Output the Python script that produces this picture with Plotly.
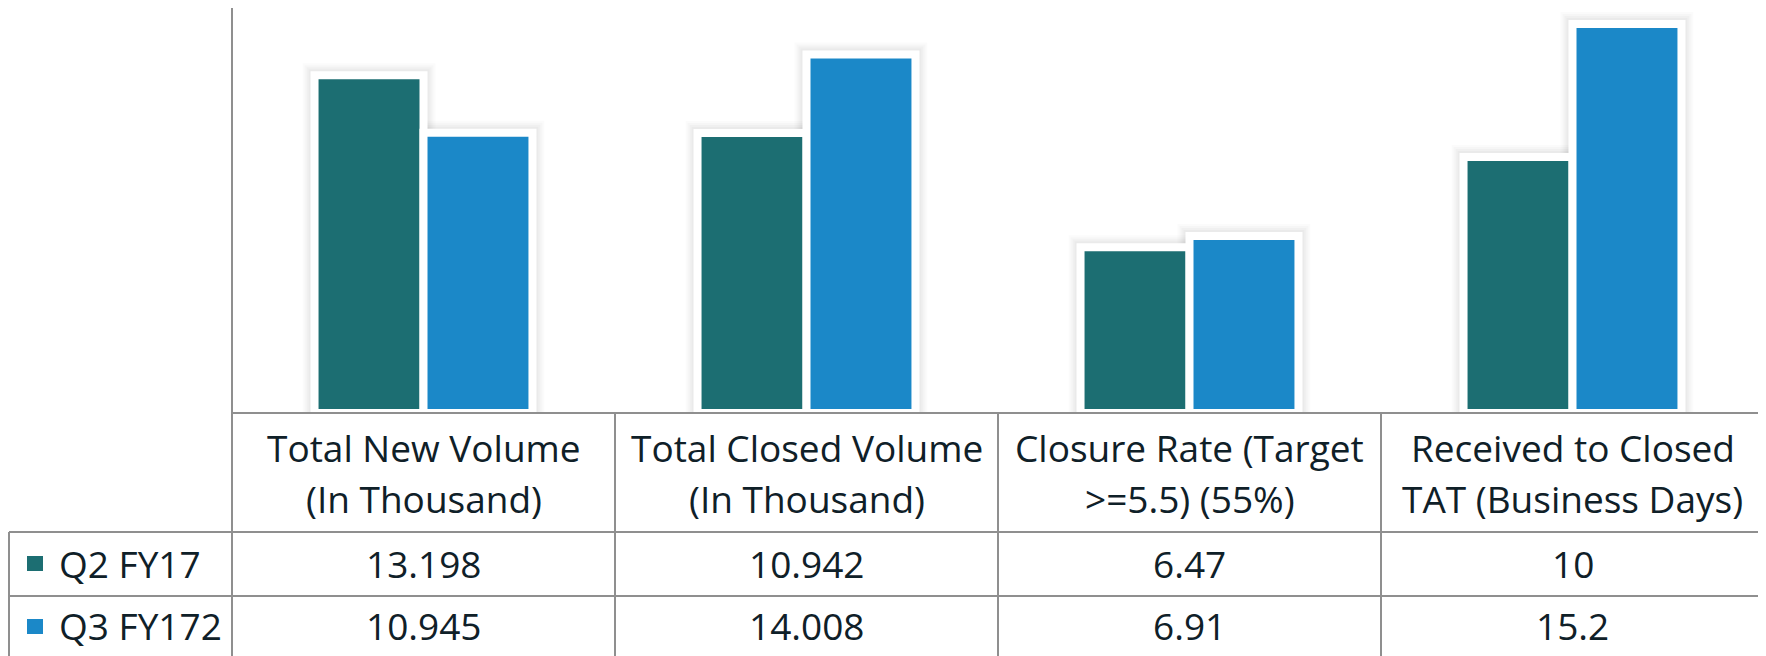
import plotly.graph_objects as go

# ---------------- data ----------------
categories = [
    "Total New Volume<br>(In Thousand)",
    "Total Closed Volume<br>(In Thousand)",
    "Closure Rate (Target<br>>=5.5) (55%)",
    "Received to Closed<br>TAT (Business Days)",
]
series_names = ["Q2 FY17", "Q3 FY172"]
q2_values = [13.198, 10.942, 6.47, 10]
q3_values = [10.945, 14.008, 6.91, 15.2]
series_values = [q2_values, q3_values]
series_colors = ["#1c6e72", "#1b88c8"]

# ---------------- geometry (page pixels; page body has an 8px margin) ----------------
OFF = 8
W, H = 1766 - OFF, 656 - OFF
PL, PR = 232 - OFF, 1764 - OFF   # plot area left/right in figure px
PT, PB = 0, 413 - OFF            # plot area top/bottom in figure px
PX_PER_UNIT = 25.6
Y_TOP = (PB - PT) / PX_PER_UNIT


def xp(page_x):
    return (page_x - OFF - PL) / (PR - PL)


def yp(page_y):
    return (PB - (page_y - OFF)) / (PB - PT)


GRID = "#8f8f8f"
TEXT = "#0f2028"
FONT = "Open Sans"
FS = 37

fig = go.Figure()

# soft shadows behind the bars
for name, vals in zip(series_names, series_values):
    for w, a in [(24, 0.014), (20, 0.018), (16, 0.022), (12, 0.025)]:
        fig.add_trace(go.Bar(
            x=categories, y=vals, offsetgroup=name, showlegend=False,
            marker=dict(color="rgba(0,0,0,0)", line=dict(color=f"rgba(0,0,0,{a})", width=w)),
            hoverinfo="skip",
        ))

for name, vals, col in zip(series_names, series_values, series_colors):
    fig.add_trace(go.Bar(
        x=categories, y=vals, name=name, offsetgroup=name, showlegend=False,
        marker=dict(color=col, line=dict(color="white", width=8)),
    ))

shapes = []


def line(x0, y0, x1, y1, xref="paper"):
    shapes.append(dict(type="line", xref=xref, yref="paper", x0=x0, x1=x1, y0=y0, y1=y1,
                       line=dict(color=GRID, width=2), layer="above"))


BOTTOM = yp(660)
# axis / table lines
line(0, 1, 0, BOTTOM)
line(0, 0, 1, 0)
line(xp(9), yp(532), 1, yp(532))
line(xp(9), yp(596), 1, yp(596))
line(xp(9), yp(532), xp(9), BOTTOM)
line(1, 0, 1, BOTTOM)
for i in range(len(categories) - 1):
    line(i + 0.5, 0, i + 0.5, BOTTOM, xref="x")

annotations = []
# header text (two lines per category)
for cat in categories:
    l1, l2 = cat.split("<br>")
    for txt, py in [(l1, 447), (l2, 498)]:
        annotations.append(dict(x=cat, xref="x", y=yp(py), yref="paper", text=txt,
                                showarrow=False, xanchor="center", yanchor="middle",
                                font=dict(family=FONT, size=FS, color=TEXT)))

# table rows
row_centers = [563, 625]
marker_centers = [563.5, 626.5]
for name, vals, col, py, my in zip(series_names, series_values, series_colors,
                                    row_centers, marker_centers):
    shapes.append(dict(type="rect", xref="paper", yref="paper",
                       x0=xp(27), x1=xp(43), y0=yp(my - 7.5), y1=yp(my + 7.5),
                       fillcolor=col, line=dict(width=0)))
    annotations.append(dict(x=xp(57), xref="paper", y=yp(py), yref="paper", text=name,
                            showarrow=False, xanchor="left", yanchor="middle",
                            font=dict(family=FONT, size=FS, color=TEXT)))
    for cat, v in zip(categories, vals):
        annotations.append(dict(x=cat, xref="x", y=yp(py), yref="paper", text=str(v),
                                showarrow=False, xanchor="center", yanchor="middle",
                                font=dict(family=FONT, size=FS, color=TEXT)))

fig.update_layout(
    width=W, height=H,
    margin=dict(l=PL, r=W - PR, t=PT, b=H - PB, pad=0),
    paper_bgcolor="white", plot_bgcolor="white",
    barmode="group", bargap=0.431, bargroupgap=0,
    showlegend=False,
    xaxis=dict(type="category", range=[-0.5, 3.5], showticklabels=False, showgrid=False,
               zeroline=False, showline=False, ticks=""),
    yaxis=dict(range=[0, Y_TOP], showticklabels=False, showgrid=False, zeroline=False,
               showline=False, ticks=""),
    shapes=shapes, annotations=annotations,
    font=dict(family=FONT, color=TEXT),
)

fig.write_html("out.html")
